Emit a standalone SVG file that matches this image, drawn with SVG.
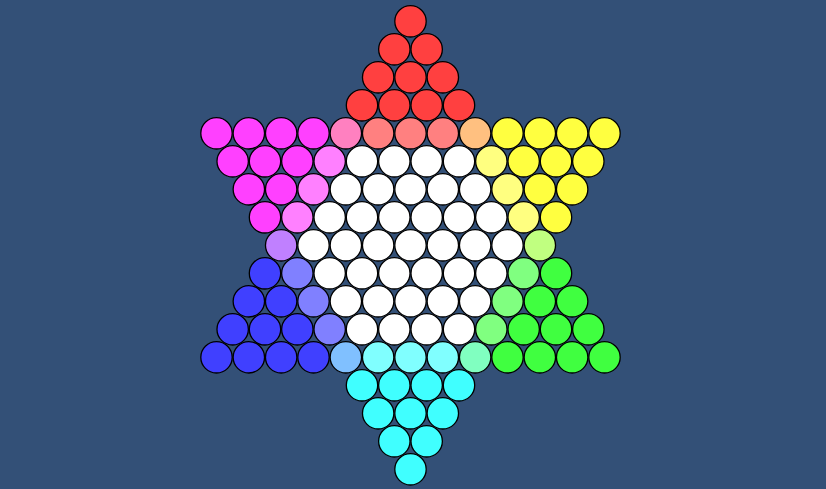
<svg xmlns="http://www.w3.org/2000/svg" width="826" height="489" viewBox="0 0 826 489">
<style>
circle{stroke:#000;stroke-width:1.3}
.R{fill:#FF4040}.P{fill:#FF80C0}.S{fill:#FF8080}.O{fill:#FFC080}
.Y{fill:#FFFF40}.LY{fill:#FFFF80}.M{fill:#FF40FF}.LM{fill:#FF80FF}
.V{fill:#C080FF}.B{fill:#4040FF}.LB{fill:#8080FF}.LI{fill:#C0FF80}
.LG{fill:#80FF80}.G{fill:#40FF40}.SK{fill:#80C0FF}.LC{fill:#80FFFF}
.C{fill:#40FFFF}.MI{fill:#80FFC0}.W{fill:#FFFFFF}
</style>
<rect width="826" height="489" fill="#335077"/>
<g id="connectors"/>
<g id="board" transform="translate(0,0.3)">
<g id="r0"><circle class="R" cx="410.5" cy="21" r="15.7"/></g>
<g id="r1"><circle class="R" cx="394.33" cy="49" r="15.7"/><circle class="R" cx="426.67" cy="49" r="15.7"/></g>
<g id="r2"><circle class="R" cx="378.17" cy="77" r="15.7"/><circle class="R" cx="410.5" cy="77" r="15.7"/><circle class="R" cx="442.83" cy="77" r="15.7"/></g>
<g id="r3"><circle class="R" cx="362" cy="105" r="15.7"/><circle class="R" cx="394.33" cy="105" r="15.7"/><circle class="R" cx="426.67" cy="105" r="15.7"/><circle class="R" cx="459" cy="105" r="15.7"/></g>
<g id="r4">
<circle class="M" cx="216.5" cy="133" r="15.7"/><circle class="M" cx="248.84" cy="133" r="15.7"/><circle class="M" cx="281.17" cy="133" r="15.7"/><circle class="M" cx="313.5" cy="133" r="15.7"/>
<circle class="P" cx="345.84" cy="133" r="15.7"/><circle class="S" cx="378.17" cy="133" r="15.7"/><circle class="S" cx="410.5" cy="133" r="15.7"/><circle class="S" cx="442.83" cy="133" r="15.7"/><circle class="O" cx="475.16" cy="133" r="15.7"/>
<circle class="Y" cx="507.5" cy="133" r="15.7"/><circle class="Y" cx="539.83" cy="133" r="15.7"/><circle class="Y" cx="572.16" cy="133" r="15.7"/><circle class="Y" cx="604.5" cy="133" r="15.7"/>
</g>
<g id="r5">
<circle class="M" cx="232.67" cy="161" r="15.7"/><circle class="M" cx="265" cy="161" r="15.7"/><circle class="M" cx="297.34" cy="161" r="15.7"/><circle class="LM" cx="329.67" cy="161" r="15.7"/>
<circle class="W" cx="362" cy="161" r="15.7"/><circle class="W" cx="394.33" cy="161" r="15.7"/><circle class="W" cx="426.67" cy="161" r="15.7"/><circle class="W" cx="459" cy="161" r="15.7"/>
<circle class="LY" cx="491.33" cy="161" r="15.7"/><circle class="Y" cx="523.66" cy="161" r="15.7"/><circle class="Y" cx="556" cy="161" r="15.7"/><circle class="Y" cx="588.33" cy="161" r="15.7"/>
</g>
<g id="r6">
<circle class="M" cx="248.84" cy="189" r="15.7"/><circle class="M" cx="281.17" cy="189" r="15.7"/><circle class="LM" cx="313.5" cy="189" r="15.7"/>
<circle class="W" cx="345.84" cy="189" r="15.7"/><circle class="W" cx="378.17" cy="189" r="15.7"/><circle class="W" cx="410.5" cy="189" r="15.7"/><circle class="W" cx="442.83" cy="189" r="15.7"/><circle class="W" cx="475.16" cy="189" r="15.7"/>
<circle class="LY" cx="507.5" cy="189" r="15.7"/><circle class="Y" cx="539.83" cy="189" r="15.7"/><circle class="Y" cx="572.16" cy="189" r="15.7"/>
</g>
<g id="r7">
<circle class="M" cx="265" cy="217" r="15.7"/><circle class="LM" cx="297.34" cy="217" r="15.7"/>
<circle class="W" cx="329.67" cy="217" r="15.7"/><circle class="W" cx="362" cy="217" r="15.7"/><circle class="W" cx="394.33" cy="217" r="15.7"/><circle class="W" cx="426.67" cy="217" r="15.7"/><circle class="W" cx="459" cy="217" r="15.7"/><circle class="W" cx="491.33" cy="217" r="15.7"/>
<circle class="LY" cx="523.66" cy="217" r="15.7"/><circle class="Y" cx="556" cy="217" r="15.7"/>
</g>
<g id="r8">
<circle class="V" cx="281.17" cy="245" r="15.7"/>
<circle class="W" cx="313.5" cy="245" r="15.7"/><circle class="W" cx="345.84" cy="245" r="15.7"/><circle class="W" cx="378.17" cy="245" r="15.7"/><circle class="W" cx="410.5" cy="245" r="15.7"/><circle class="W" cx="442.83" cy="245" r="15.7"/><circle class="W" cx="475.16" cy="245" r="15.7"/><circle class="W" cx="507.5" cy="245" r="15.7"/>
<circle class="LI" cx="539.83" cy="245" r="15.7"/>
</g>
<g id="r9">
<circle class="B" cx="265" cy="273" r="15.7"/><circle class="LB" cx="297.34" cy="273" r="15.7"/>
<circle class="W" cx="329.67" cy="273" r="15.7"/><circle class="W" cx="362" cy="273" r="15.7"/><circle class="W" cx="394.33" cy="273" r="15.7"/><circle class="W" cx="426.67" cy="273" r="15.7"/><circle class="W" cx="459" cy="273" r="15.7"/><circle class="W" cx="491.33" cy="273" r="15.7"/>
<circle class="LG" cx="523.66" cy="273" r="15.7"/><circle class="G" cx="556" cy="273" r="15.7"/>
</g>
<g id="r10">
<circle class="B" cx="248.84" cy="301" r="15.7"/><circle class="B" cx="281.17" cy="301" r="15.7"/><circle class="LB" cx="313.5" cy="301" r="15.7"/>
<circle class="W" cx="345.84" cy="301" r="15.7"/><circle class="W" cx="378.17" cy="301" r="15.7"/><circle class="W" cx="410.5" cy="301" r="15.7"/><circle class="W" cx="442.83" cy="301" r="15.7"/><circle class="W" cx="475.16" cy="301" r="15.7"/>
<circle class="LG" cx="507.5" cy="301" r="15.7"/><circle class="G" cx="539.83" cy="301" r="15.7"/><circle class="G" cx="572.16" cy="301" r="15.7"/>
</g>
<g id="r11">
<circle class="B" cx="232.67" cy="329" r="15.7"/><circle class="B" cx="265" cy="329" r="15.7"/><circle class="B" cx="297.34" cy="329" r="15.7"/><circle class="LB" cx="329.67" cy="329" r="15.7"/>
<circle class="W" cx="362" cy="329" r="15.7"/><circle class="W" cx="394.33" cy="329" r="15.7"/><circle class="W" cx="426.67" cy="329" r="15.7"/><circle class="W" cx="459" cy="329" r="15.7"/>
<circle class="LG" cx="491.33" cy="329" r="15.7"/><circle class="G" cx="523.66" cy="329" r="15.7"/><circle class="G" cx="556" cy="329" r="15.7"/><circle class="G" cx="588.33" cy="329" r="15.7"/>
</g>
<g id="r12">
<circle class="B" cx="216.5" cy="357" r="15.7"/><circle class="B" cx="248.84" cy="357" r="15.7"/><circle class="B" cx="281.17" cy="357" r="15.7"/><circle class="B" cx="313.5" cy="357" r="15.7"/>
<circle class="SK" cx="345.84" cy="357" r="15.7"/><circle class="LC" cx="378.17" cy="357" r="15.7"/><circle class="LC" cx="410.5" cy="357" r="15.7"/><circle class="LC" cx="442.83" cy="357" r="15.7"/><circle class="MI" cx="475.16" cy="357" r="15.7"/>
<circle class="G" cx="507.5" cy="357" r="15.7"/><circle class="G" cx="539.83" cy="357" r="15.7"/><circle class="G" cx="572.16" cy="357" r="15.7"/><circle class="G" cx="604.5" cy="357" r="15.7"/>
</g>
<g id="r13"><circle class="C" cx="362" cy="385" r="15.7"/><circle class="C" cx="394.33" cy="385" r="15.7"/><circle class="C" cx="426.67" cy="385" r="15.7"/><circle class="C" cx="459" cy="385" r="15.7"/></g>
<g id="r14"><circle class="C" cx="378.17" cy="413" r="15.7"/><circle class="C" cx="410.5" cy="413" r="15.7"/><circle class="C" cx="442.83" cy="413" r="15.7"/></g>
<g id="r15"><circle class="C" cx="394.33" cy="441" r="15.7"/><circle class="C" cx="426.67" cy="441" r="15.7"/></g>
<g id="r16"><circle class="C" cx="410.5" cy="469" r="15.7"/></g>
</g>
</svg>
